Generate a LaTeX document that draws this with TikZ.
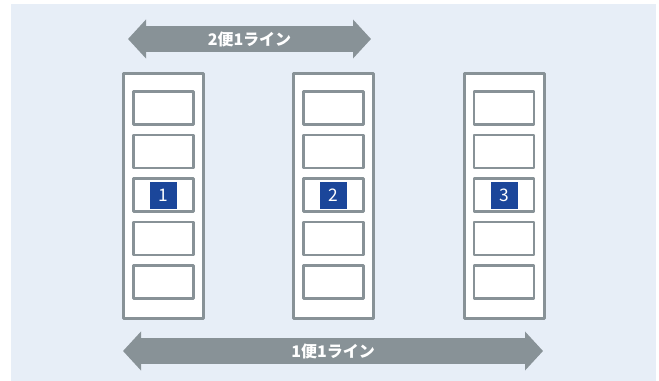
\documentclass[tikz,border=0pt]{standalone}
\usepackage{fontspec}
\newfontfamily\jpfont{Noto Sans CJK JP}
\usetikzlibrary{arrows.meta, positioning}
\definecolor{bgblue}{HTML}{E7EEF7}
\definecolor{linegray}{HTML}{889297}
\definecolor{numblue}{HTML}{1B469A}

\begin{document}
\begin{tikzpicture}[x=0.75pt, y=-0.75pt,
  lane/.style={draw=linegray, line width=2.25pt, fill=white, minimum width=60pt, minimum height=183pt, inner sep=0pt, line join=round},
  slot/.style={draw=linegray, line width=2pt, fill=white, minimum width=45pt, minimum height=24.75pt, inner sep=0pt, line join=round},
  num/.style={fill=numblue, text=white, minimum size=20.25pt, inner sep=0pt, font=\jpfont\fontsize{13}{13}\selectfont},
  band/.style={linegray, line width=19.5pt, {Triangle[length=13.5pt,width=28.5pt]}-{Triangle[length=13.5pt,width=28.5pt]}},
  bandtext/.style={text=white, font=\jpfont\bfseries\fontsize{12}{12}\selectfont}]
\useasboundingbox (0,0) rectangle (659,381);
\fill[bgblue] (11,4) rectangle (656,381);
% three lanes with five slots each
\foreach \c/\x in {1/163.5, 2/333.75, 3/504}{
  \node[lane] (lane\c) at (\x,196) {};
  \foreach \k in {1,...,5}
    \node[slot] (s\c\k) at (\x,{195+43.6*(\k-3)}) {};
  \node[num] (n\c) at (s\c3) {\c};
}
% line arrows
\coordinate (topl) at (128,39);
\coordinate (topr) at (371,39);
\coordinate (botl) at (123,351);
\coordinate (botr) at (543,351);
\draw[band] (topl) -- (topr) node[bandtext, midway] (toptext) {2便1ライン};
\draw[band] (botl) -- (botr) node[bandtext, midway] (bottext) {1便1ライン};
\end{tikzpicture}
\end{document}
